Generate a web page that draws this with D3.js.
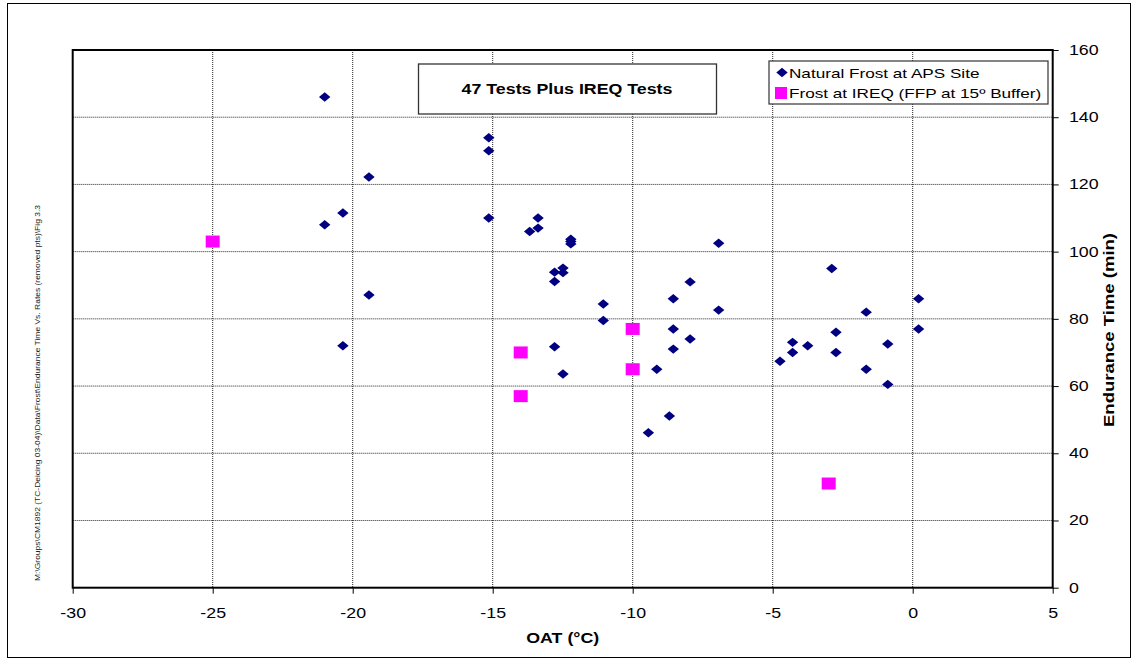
<!DOCTYPE html>
<html><head><meta charset="utf-8">
<script src="https://cdn.jsdelivr.net/npm/d3@7"></script>
<style>body{margin:0;background:#fff;} svg{display:block;font-family:Arial,"Liberation Sans",sans-serif;}</style>
</head><body>
<svg id="c" width="1137" height="661"></svg>
<script>
const apsX = [-21.0,-21.0,-20.35,-19.42,-19.42,-20.35,-15.14,-15.14,-15.14,-13.68,-13.38,-13.38,-12.21,-12.21,-12.21,-6.93,-12.79,-12.49,-12.49,-12.79,-11.05,-11.05,-7.95,-8.55,-6.93,-8.55,-7.95,-8.55,-9.14,-8.69,-9.44,-12.79,-12.49,-2.89,-1.66,0.21,0.21,-2.74,-4.29,-3.75,-4.29,-2.74,-0.89,-4.74,-1.66,-0.89];
const apsY = [146,108,111.5,122.2,87.1,72,133.9,130,110,106,110,107,103.7,103,102.3,102.5,93.9,95.1,93.75,91.1,84.4,79.5,91,86,82.6,77,74,71,65,51.1,46.1,71.7,63.6,95,82,86,77,76,73,72,70,70,72.5,67.4,65,60.5];
const ireqX = [-25,-14,-14,-10,-10,-3];
const ireqY = [103,70,57,77,65,31];
const xTicks = [-30,-25,-20,-15,-10,-5,0,5];
const yTicks = [0,20,40,60,80,100,120,140,160];
const seriesNames = ["Natural Frost at APS Site","Frost at IREQ (FFP at 15º Buffer)"];
const titleText = "47 Tests Plus IREQ Tests";
const xLabel = "OAT (°C)";
const yLabel = "Endurance Time (min)";
const pathNote = "M:\\Groups\\CM1892 (TC-Deicing 03-04)\\Data\\Frost\\Endurance Time Vs. Rates (removed pts)\\Fig 3.3";

const SX = 1.27; // horizontal stretch of the original's text
const svg = d3.select("#c");
const L=72.7, R=1052.7, T=50, B=587.7;
const x = d3.scaleLinear().domain([-30,5]).range([L,R]);
const y = d3.scaleLinear().domain([0,160]).range([B,T]);

function stext(px, py, str, size, opts={}) {
  const t = svg.append("text").attr("transform",`translate(${px},${py}) scale(${SX},1)`)
    .attr("font-size",size).attr("fill","#000").text(str);
  if (opts.anchor) t.attr("text-anchor",opts.anchor);
  if (opts.bold) t.attr("font-weight","bold");
  return t;
}

// outer frame
svg.append("rect").attr("x",7.5).attr("y",3.5).attr("width",1123).attr("height",654)
  .attr("fill","none").attr("stroke","#000").attr("stroke-width",1);

// grid
const g = svg.append("g");
g.selectAll("line.vg").data(xTicks.slice(1,-1)).join("line")
  .attr("x1",d=>x(d)).attr("x2",d=>x(d)).attr("y1",T).attr("y2",B)
  .attr("stroke","#000").attr("stroke-width",1).attr("stroke-dasharray","1,1").attr("opacity",0.85);
g.selectAll("line.hg").data(yTicks.slice(1,-1)).join("line")
  .attr("y1",d=>y(d)).attr("y2",d=>y(d)).attr("x1",L).attr("x2",R)
  .attr("stroke","#000").attr("stroke-width",1).attr("stroke-dasharray","1,1").attr("opacity",0.85);

// plot border
svg.append("rect").attr("x",L).attr("y",T).attr("width",R-L).attr("height",B-T)
  .attr("fill","none").attr("stroke","#000").attr("stroke-width",2);

// axes
const xAxis = d3.axisBottom(x).tickValues(xTicks).tickSize(6).tickPadding(14);
const xg = svg.append("g").attr("transform",`translate(0,${B})`).call(xAxis);
xg.select(".domain").remove();
xg.selectAll("text").attr("font-size",14).attr("fill","#000")
  .attr("font-family","Arial, 'Liberation Sans', sans-serif")
  .attr("transform",`scale(${SX},1)`)
  .text(d=>d<0?"-"+Math.abs(d):String(d));
xg.selectAll("line").attr("stroke","#000");

const yAxis = d3.axisRight(y).tickValues(yTicks).tickSize(6).tickPadding(10);
const yg = svg.append("g").attr("transform",`translate(${R},0)`).call(yAxis);
yg.select(".domain").remove();
yg.selectAll("text").attr("font-size",14).attr("fill","#000")
  .attr("font-family","Arial, 'Liberation Sans', sans-serif")
  .attr("x",16.3/SX).attr("transform",`scale(${SX},1)`);
yg.selectAll("line").attr("stroke","#000");

// axis titles
stext(x(-12.5), 643, xLabel, 14, {anchor:"middle", bold:true});
svg.append("text").attr("transform",`translate(1114,330) rotate(-90)`).attr("text-anchor","middle")
  .attr("font-size",15).attr("font-weight","bold")
  .attr("textLength",194).attr("lengthAdjust","spacingAndGlyphs").text(yLabel);

// path note
svg.append("text").attr("transform",`translate(40,393) rotate(-90)`).attr("text-anchor","middle")
  .attr("font-size",7.5).attr("fill","#222")
  .attr("textLength",376).attr("lengthAdjust","spacingAndGlyphs").text(pathNote);

// points
const aps = apsX.map((v,i)=>({x:v,y:apsY[i]}));
const ireq = ireqX.map((v,i)=>({x:v,y:ireqY[i]}));
const diamond = "M0,-4.7L5.7,0L0,4.7L-5.7,0Z";
svg.append("g").selectAll("path").data(aps).join("path")
  .attr("d",diamond).attr("transform",d=>`translate(${x(d.x)},${y(d.y)})`).attr("fill","#000080");
svg.append("g").selectAll("rect").data(ireq).join("rect")
  .attr("x",d=>x(d.x)-7).attr("y",d=>y(d.y)-6).attr("width",14).attr("height",12).attr("fill","#ff00ff");

// title box
svg.append("rect").attr("x",418.5).attr("y",64).attr("width",298).attr("height",50)
  .attr("fill","#fff").attr("stroke","#333").attr("stroke-width",1.3);
stext(567, 93.5, titleText, 14, {anchor:"middle", bold:true});

// legend
svg.append("rect").attr("x",769).attr("y",61).attr("width",279).attr("height",43)
  .attr("fill","#fff").attr("stroke","#333").attr("stroke-width",1.2);
svg.append("path").attr("d",diamond).attr("transform","translate(782,72.5)").attr("fill","#000080");
svg.append("rect").attr("x",775).attr("y",87).attr("width",12).attr("height",12).attr("fill","#ff00ff");
stext(789, 77.5, seriesNames[0], 13.5);
stext(789, 98, seriesNames[1], 13.5);
</script>
</body></html>
